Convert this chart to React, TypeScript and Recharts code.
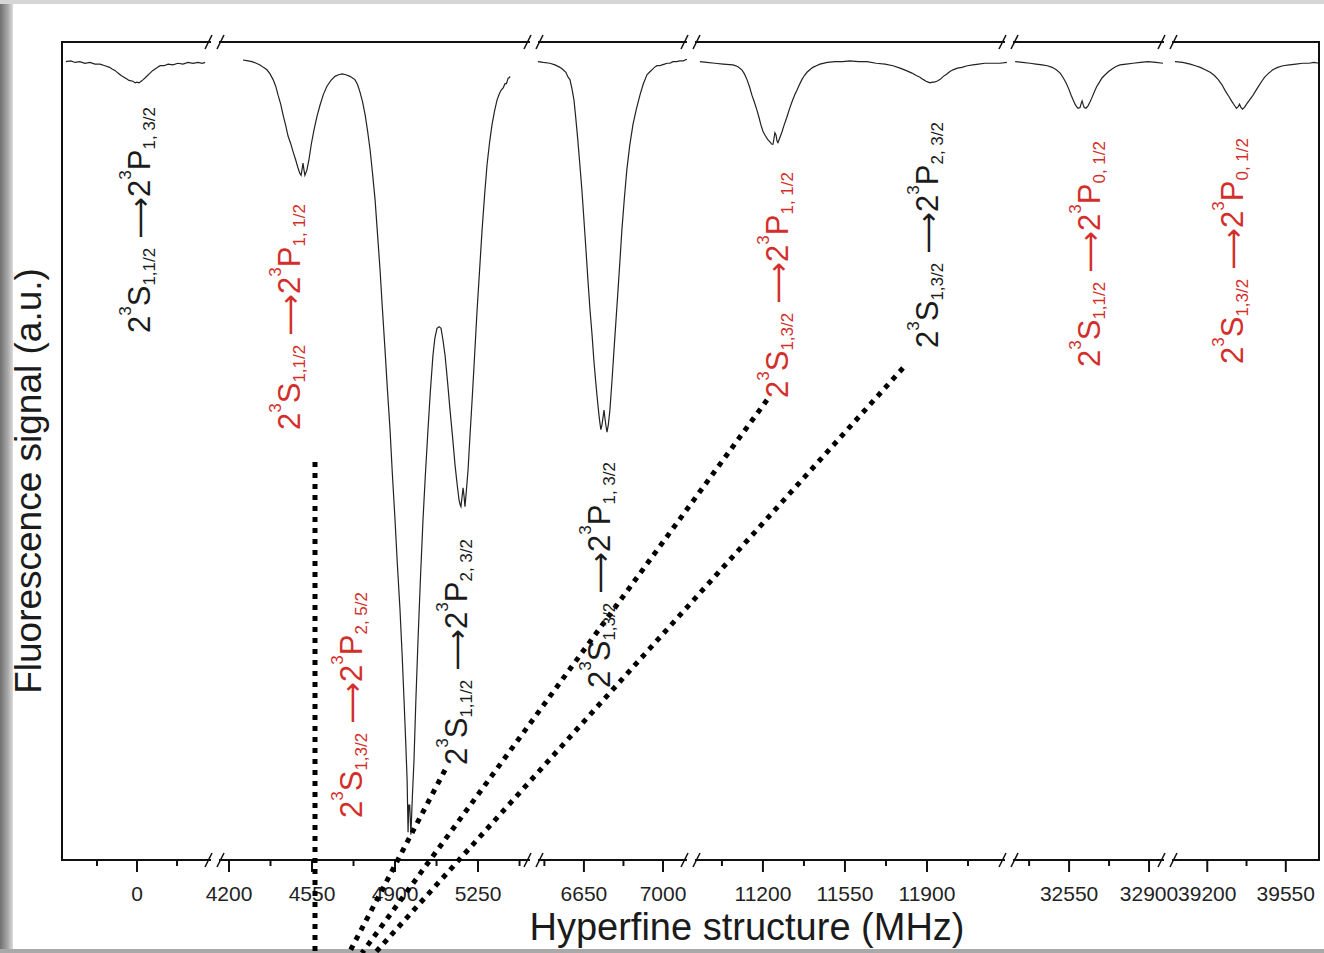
import React from 'react';
import {LineChart, Line, XAxis, YAxis} from 'recharts';

// fluorescence scans, one pair of arrays per axis segment (MHz, signal a.u.)
const f1 = [-311, -290, -271, -250, -228, -206, -184, -162, -140, -120, -109, -95, -83, -70, -57, -46, -35, -18, -8, 0, 9, 18, 27, 35, 46, 57, 68, 79, 90, 101, 118, 136, 157, 179, 201, 223, 245, 267, 285, 298];
const s1 = [97.6, 97.7, 97.5, 97.6, 97.4, 97.5, 97.3, 97.3, 97.1, 96.9, 96.7, 96.5, 96.2, 95.9, 95.7, 95.5, 95.3, 95.2, 95.0, 95.1, 95.0, 95.2, 95.4, 95.6, 95.9, 96.2, 96.5, 96.7, 96.9, 97.1, 97.1, 97.3, 97.2, 97.4, 97.3, 97.5, 97.4, 97.5, 97.4, 97.5];

const f2 = [4259, 4280, 4297, 4315, 4331, 4345, 4360, 4373, 4386, 4397, 4407, 4418, 4428, 4439, 4449, 4460, 4470, 4481, 4491, 4498, 4504, 4508, 4512, 4516, 4520, 4528, 4537, 4547, 4558, 4571, 4584, 4598, 4613, 4630, 4647, 4662, 4677, 4693, 4710, 4721, 4731, 4742, 4752, 4763, 4774, 4784, 4795, 4805, 4816, 4826, 4837, 4847, 4858, 4868, 4879, 4889, 4900, 4910, 4921, 4930, 4938, 4945, 4951, 4955, 4958, 4962, 4967, 4973, 4980, 4988, 4997, 5007, 5018, 5028, 5039, 5049, 5060, 5068, 5077, 5086, 5094, 5102, 5111, 5122, 5132, 5143, 5153, 5162, 5170, 5175, 5178, 5183, 5187, 5191, 5195, 5201, 5208, 5216, 5225, 5236, 5246, 5257, 5267, 5278, 5288, 5299, 5309, 5320, 5330, 5339, 5347, 5356, 5364, 5370, 5377, 5381, 5385];
const s2 = [97.8, 97.7, 97.6, 97.4, 97.2, 96.9, 96.6, 96.1, 95.4, 94.6, 93.5, 92.4, 91.1, 89.8, 88.5, 87.6, 86.6, 85.6, 84.6, 84.0, 83.7, 84.4, 85.2, 84.4, 83.7, 84.3, 85.6, 87.5, 89.2, 90.9, 92.3, 93.6, 94.6, 95.3, 95.8, 96.0, 96.1, 96.0, 95.8, 95.6, 95.4, 94.8, 93.9, 92.7, 91.1, 89.2, 86.8, 84.0, 80.7, 76.6, 72.1, 67.3, 62.3, 57.5, 52.6, 47.1, 41.6, 36.1, 30.6, 25.1, 19.6, 14.5, 9.8, 3.4, 6.7, 6.7, 3.1, 7.6, 12.2, 19.6, 26.9, 34.3, 41.6, 47.1, 52.6, 57.3, 61.7, 63.8, 65.0, 65.2, 65.0, 63.6, 61.7, 58.3, 55.0, 51.6, 48.3, 45.9, 44.0, 43.4, 43.2, 44.5, 45.5, 44.5, 43.2, 45.2, 47.7, 51.8, 56.2, 61.9, 67.2, 72.3, 77.0, 81.4, 85.0, 87.8, 89.9, 91.6, 92.9, 93.6, 94.1, 94.4, 94.9, 94.9, 95.6, 95.6, 95.8];

const f3 = [6446, 6470, 6499, 6522, 6544, 6558, 6570, 6580, 6588, 6597, 6606, 6614, 6623, 6632, 6641, 6650, 6659, 6668, 6677, 6686, 6694, 6703, 6712, 6719, 6725, 6730, 6734, 6739, 6743, 6748, 6752, 6758, 6765, 6774, 6783, 6792, 6801, 6810, 6818, 6829, 6840, 6853, 6867, 6882, 6898, 6913, 6929, 6940, 6951, 6962, 6973, 6985, 6996, 7007, 7018, 7031, 7044, 7060, 7075, 7090, 7106];
const s3 = [97.6, 97.5, 97.4, 97.2, 96.9, 96.6, 96.3, 95.7, 95.4, 94.3, 92.9, 90.7, 88.0, 85.0, 81.9, 78.3, 74.6, 70.8, 67.2, 64.2, 61.1, 58.2, 55.6, 53.8, 52.6, 53.2, 54.0, 55.0, 54.0, 53.0, 52.3, 53.2, 55.0, 58.5, 62.3, 66.0, 69.7, 73.5, 77.0, 80.9, 84.4, 87.4, 89.9, 91.8, 93.5, 94.9, 96.0, 96.3, 96.6, 96.9, 97.1, 97.1, 97.2, 97.3, 97.4, 97.4, 97.6, 97.6, 97.7, 97.7, 97.9];

const f4 = [10931, 10960, 10995, 11030, 11072, 11092, 11110, 11121, 11132, 11143, 11153, 11164, 11174, 11183, 11191, 11200, 11209, 11220, 11230, 11238, 11243, 11247, 11251, 11256, 11260, 11264, 11272, 11281, 11291, 11302, 11313, 11324, 11335, 11345, 11356, 11366, 11377, 11388, 11400, 11413, 11428, 11443, 11475, 11507, 11540, 11571, 11608, 11644, 11683, 11721, 11755, 11785, 11812, 11836, 11854, 11870, 11885, 11896, 11905, 11913, 11922, 11930, 11942, 11955, 11970, 11985, 11998, 12011, 12030, 12049, 12072, 12096, 12120, 12147, 12180, 12212, 12241];
const s4 = [97.6, 97.5, 97.4, 97.3, 97.2, 97.0, 96.6, 96.1, 95.4, 94.5, 93.5, 92.6, 91.7, 90.8, 89.9, 89.1, 88.6, 88.1, 87.8, 87.5, 87.5, 88.2, 88.9, 88.6, 87.9, 87.7, 88.3, 89.0, 89.9, 90.8, 91.8, 92.7, 93.5, 94.1, 94.8, 95.4, 95.9, 96.3, 96.6, 96.9, 97.1, 97.3, 97.5, 97.6, 97.6, 97.7, 97.6, 97.6, 97.4, 97.3, 97.1, 96.8, 96.5, 96.2, 95.9, 95.7, 95.4, 95.2, 95.1, 95.0, 95.1, 95.1, 95.2, 95.4, 95.8, 96.1, 96.4, 96.6, 96.8, 96.9, 97.1, 97.2, 97.3, 97.4, 97.4, 97.4, 97.5];

const f5 = [32314, 32345, 32379, 32405, 32432, 32455, 32476, 32494, 32511, 32525, 32537, 32548, 32559, 32568, 32576, 32583, 32589, 32598, 32603, 32607, 32611, 32616, 32624, 32633, 32642, 32650, 32659, 32670, 32681, 32694, 32708, 32723, 32738, 32755, 32773, 32800, 32830, 32862, 32896, 32930, 32961];
const s5 = [97.6, 97.5, 97.4, 97.3, 97.2, 97.1, 96.9, 96.6, 96.2, 95.6, 95.0, 94.3, 93.5, 92.9, 92.4, 92.1, 91.9, 92.0, 92.5, 92.8, 92.4, 92.0, 91.9, 92.2, 92.7, 93.2, 93.8, 94.5, 95.0, 95.6, 96.0, 96.4, 96.7, 97.0, 97.2, 97.3, 97.4, 97.5, 97.6, 97.5, 97.4];

const f6 = [39056, 39090, 39124, 39147, 39169, 39191, 39213, 39232, 39249, 39265, 39281, 39295, 39308, 39320, 39330, 39338, 39344, 39350, 39357, 39366, 39375, 39388, 39402, 39415, 39429, 39443, 39456, 39474, 39492, 39514, 39537, 39566, 39595, 39624, 39653, 39676, 39698];
const s6 = [97.6, 97.5, 97.3, 97.1, 96.9, 96.6, 96.3, 95.9, 95.4, 94.8, 94.0, 93.4, 92.8, 92.3, 91.9, 92.1, 92.4, 92.0, 91.8, 92.0, 92.4, 92.9, 93.4, 94.0, 94.6, 95.2, 95.7, 96.2, 96.6, 96.9, 97.1, 97.2, 97.3, 97.4, 97.4, 97.5, 97.4];

// axis ranges and ticks of each segment of the broken axis
const domains: [number, number][] = [[-328, 341], [4141, 5486], [6429, 7124], [10893, 12250], [32287, 32983], [39025, 39698]];
const majorTicks = [[0], [4200, 4550, 4900, 5250], [6650, 7000], [11200, 11550, 11900], [32550, 32900], [39200, 39550]];
const minorTicks = [[-175, 175], [4375, 4725, 5075, 5425], [6475, 6825], [11025, 11375, 11725, 12075], [32375, 32725], [39375]];

// transition labels: lower-state subscript, upper-state subscript, highlighted
const lowerSub = ['1,1/2', '1,1/2', '1,3/2', '1,1/2', '1,3/2', '1,3/2', '1,3/2', '1,1/2', '1,3/2'];
const upperSub = ['1, 3/2', '1, 1/2', '2, 5/2', '2, 3/2', '1, 3/2', '1, 1/2', '2, 3/2', '0, 1/2', '0, 1/2'];
const isRed = [false, true, true, false, false, true, false, true, true];

// layout
const W = 1324;
const H = 953;
const EDGES = [62, 215, 534, 691, 1009, 1168, 1319];
const PLOT_TOP = 42;
const PLOT_H = 818;
const AXIS_H = 70;
const PAD = 40;
const FONT = '"Liberation Sans", Arial, Helvetica, sans-serif';
const RED = '#d22f2c';
const INK = '#1b1b1b';
const labelPos = [[150, 333], [300, 430], [362, 818], [467, 765], [610, 688], [788, 398], [938, 348], [1100, 367], [1243, 364]];
const dotted = [[315, 462, 315, 953], [445, 770, 349, 953], [767, 400, 362, 953], [903, 368, 375, 953]];

const series = [[f1, s1], [f2, s2], [f3, s3], [f4, s4], [f5, s5], [f6, s6]].map(([f, s]) =>
  f.map((x, i) => ({f: x, v: s[i]}))
);

const AxisTick = (props: any) => {
  const {x, y, payload, major} = props;
  const isMajor = major.includes(payload.value);
  return (
    <g>
      <line x1={x} x2={x} y1={y} y2={y + (isMajor ? 12 : 6)} stroke="#111" strokeWidth={2} />
      {isMajor && (
        <text x={x} y={y + 41} textAnchor="middle" fontSize={21} fontFamily={FONT} fill="#222">
          {payload.value}
        </text>
      )}
    </g>
  );
};

const Segment = ({idx}: {idx: number}) => {
  const left = EDGES[idx];
  const w = EDGES[idx + 1] - left;
  const major = majorTicks[idx];
  const ticks = [...majorTicks[idx], ...minorTicks[idx]].sort((a, b) => a - b);
  return (
    <div style={{position: 'absolute', left: left - PAD, top: PLOT_TOP}}>
      <LineChart width={w + PAD * 2} height={PLOT_H + AXIS_H} data={series[idx]}
                 margin={{top: 0, right: PAD, bottom: 0, left: PAD}}>
        <XAxis dataKey="f" type="number" domain={domains[idx]} allowDataOverflow ticks={ticks} interval={0}
               height={AXIS_H} tickSize={0} tickMargin={0} tickLine={false}
               axisLine={{stroke: '#111', strokeWidth: 2}}
               tick={(p: any) => <AxisTick {...p} major={major} />} />
        <YAxis hide type="number" domain={[0, 100]} allowDataOverflow />
        <Line type="linear" dataKey="v" stroke="#222" strokeWidth={1.2} dot={false} isAnimationActive={false} />
      </LineChart>
    </div>
  );
};

const BreakMark = ({x, y}: {x: number; y: number}) => (
  <g>
    <rect x={x - 4} y={y - 3} width={8} height={6} fill="#fff" />
    <line x1={x - 10} y1={y + 7} x2={x - 3} y2={y - 7} stroke="#111" strokeWidth={1.6} />
    <line x1={x + 2} y1={y + 7} x2={x + 9} y2={y - 7} stroke="#111" strokeWidth={1.6} />
  </g>
);

const Transition = ({i}: {i: number}) => {
  const [x, y] = labelPos[i];
  return (
    <text transform={`translate(${x},${y}) rotate(-90)`} fill={isRed[i] ? RED : INK} fontSize={31} fontFamily={FONT}>
      <tspan>2</tspan>
      <tspan fontSize={17} dy={-19}>3</tspan>
      <tspan dy={19}>S</tspan>
      <tspan fontSize={17} dy={5}>{lowerSub[i]}</tspan>
      <tspan dy={-5} fontFamily='"DejaVu Sans", sans-serif' fontSize={29}>{'\u00a0\u27f6'}</tspan>
      <tspan>2</tspan>
      <tspan fontSize={17} dy={-19}>3</tspan>
      <tspan dy={19}>P</tspan>
      <tspan fontSize={17} dy={5}>{upperSub[i]}</tspan>
    </text>
  );
};

export default function App() {
  const right = EDGES[EDGES.length - 1];
  const bottom = PLOT_TOP + PLOT_H;
  return (
    <div style={{position: 'absolute', left: 0, top: 0, width: W, height: H, background: '#fff', overflow: 'hidden'}}>
      <div style={{position: 'absolute', left: 0, top: 0, width: 13, height: H, background: 'linear-gradient(to right, #707070, #a8a8a8 60%, #dcdcdc)'}} />
      <div style={{position: 'absolute', left: 0, top: 0, width: W, height: 4, background: '#d6d6d6'}} />
      <div style={{position: 'absolute', left: 0, top: H - 4, width: W, height: 4, background: '#a9a9a9'}} />
      {domains.map((_, i) => <Segment key={i} idx={i} />)}
      <svg width={W} height={H} style={{position: 'absolute', left: 0, top: 0, pointerEvents: 'none'}}>
        <line x1={EDGES[0]} y1={PLOT_TOP} x2={right} y2={PLOT_TOP} stroke="#111" strokeWidth={2} />
        <line x1={EDGES[0]} y1={PLOT_TOP - 1} x2={EDGES[0]} y2={bottom + 1} stroke="#111" strokeWidth={2} />
        <line x1={right} y1={PLOT_TOP - 1} x2={right} y2={bottom + 1} stroke="#111" strokeWidth={2} />
        {EDGES.slice(1, -1).map((x) => (
          <g key={x}>
            <BreakMark x={x} y={PLOT_TOP} />
            <BreakMark x={x} y={bottom} />
          </g>
        ))}
        {dotted.map(([x1, y1, x2, y2], i) => (
          <line key={i} x1={x1} y1={y1} x2={x2} y2={y2} stroke="#000" strokeWidth={5} strokeDasharray="5 6" />
        ))}
        {labelPos.map((_, i) => <Transition key={i} i={i} />)}
        <text x={747} y={940} textAnchor="middle" fontSize={38} fontFamily={FONT} fill={INK}>
          Hyperfine structure (MHz)
        </text>
        <text transform="translate(41,481) rotate(-90)" textAnchor="middle" fontSize={37} fontFamily={FONT} fill={INK}>
          Fluorescence signal (a.u.)
        </text>
      </svg>
    </div>
  );
}
